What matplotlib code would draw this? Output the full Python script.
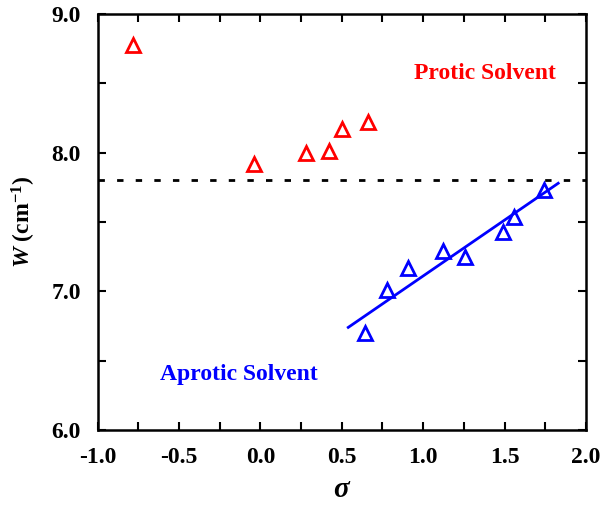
import numpy as np
import matplotlib
matplotlib.use('Agg')
import matplotlib.pyplot as plt
from matplotlib.ticker import MultipleLocator, FormatStrFormatter

# === Data ===
protic_sigma = [-0.78, -0.04, 0.28, 0.42, 0.50, 0.66]
protic_w = [8.78, 7.92, 8.00, 8.01, 8.17, 8.22]

aprotic_sigma = [0.64, 0.78, 0.91, 1.12, 1.26, 1.49, 1.56, 1.74]
aprotic_w = [6.70, 7.01, 7.17, 7.29, 7.25, 7.43, 7.54, 7.73]

fit_sigma = [0.54, 1.83]
fit_w = [6.74, 7.78]

threshold_w = 7.8

# === Style ===
plt.rcParams['font.family'] = ['Liberation Serif', 'DejaVu Serif']
plt.rcParams['font.weight'] = 'bold'
plt.rcParams['mathtext.fontset'] = 'custom'
plt.rcParams['mathtext.rm'] = 'Liberation Serif:bold'
plt.rcParams['mathtext.it'] = 'Liberation Serif:italic:bold'
plt.rcParams['mathtext.bf'] = 'Liberation Serif:bold'

fig = plt.figure(figsize=(6.04, 5.07), dpi=100)
ax = fig.add_axes([0.1616, 0.152, 0.8084, 0.820])

ax.plot(protic_sigma, protic_w, linestyle='none', marker='^', markersize=10.5,
        markerfacecolor='none', markeredgecolor='#ff0000', markeredgewidth=2)
ax.plot(aprotic_sigma, aprotic_w, linestyle='none', marker='^', markersize=10.5,
        markerfacecolor='none', markeredgecolor='#0000ff', markeredgewidth=2)
ax.plot(fit_sigma, fit_w, color='#0000ff', linewidth=2)
ax.axhline(threshold_w, color='black', linewidth=2, linestyle=(0, (2.3, 4.4)))

ax.text(1.38, 8.57, 'Protic Solvent', color='#ff0000', fontsize=17,
        fontweight='bold', ha='center', va='center')
ax.text(-0.13, 6.40, 'Aprotic Solvent', color='#0000ff', fontsize=17,
        fontweight='bold', ha='center', va='center')

ax.set_xlim(-1.0, 2.0)
ax.set_ylim(6.0, 9.0)
ax.xaxis.set_major_locator(MultipleLocator(0.5))
ax.xaxis.set_minor_locator(MultipleLocator(0.25))
ax.yaxis.set_major_locator(MultipleLocator(1.0))
ax.yaxis.set_minor_locator(MultipleLocator(0.5))
ax.xaxis.set_major_formatter(FormatStrFormatter('%.1f'))
ax.yaxis.set_major_formatter(FormatStrFormatter('%.1f'))

ax.tick_params(which='both', direction='in', top=True, right=True,
               length=6, width=1.5, labelsize=17)
ax.tick_params(axis='x', pad=12)
ax.tick_params(axis='y', pad=12)
for lab in ax.get_xticklabels() + ax.get_yticklabels():
    lab.set_fontweight('bold')
for sp in ax.spines.values():
    sp.set_linewidth(1.8)

ax.set_xlabel(r'$\sigma$', fontsize=21, labelpad=7)
ax.set_ylabel(r'$\mathit{W}$ (cm$^{-1}$)', fontsize=17, fontweight='bold', labelpad=10)

fig.savefig('out.png', dpi=100)
